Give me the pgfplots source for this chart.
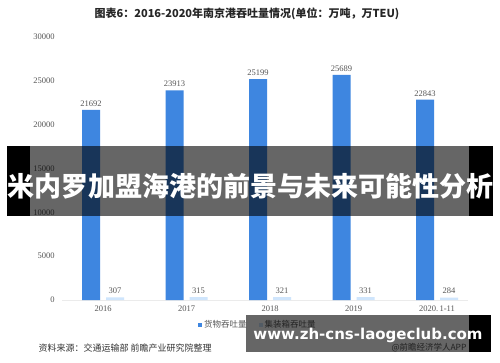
\documentclass[border=0pt]{standalone}
\usepackage{fontspec}
\setmainfont{Liberation Serif}
\newfontfamily\cjk{Noto Sans CJK SC}
\newfontfamily\wsans{DejaVu Sans}
\usepackage{pgfplots}
\pgfplotsset{compat=1.18}
\definecolor{barblue}{HTML}{3E86E0}
\definecolor{barlight}{HTML}{CFE5FC}
\definecolor{txtgray}{HTML}{555555}
\begin{document}
\begin{tikzpicture}[x=1pt,y=1pt]
\useasboundingbox (0,0) rectangle (500,362);
\fill[white] (0,0) rectangle (500,362);
\node[font=\cjk\bfseries\fontsize{11}{13}\selectfont,text=black!85] at (247,348) {图表6：2016-2020年南京港吞吐量情况(单位：万吨，万TEU)};
\draw[black!8,line width=0.8pt] (62,62) -- (468,62);
\begin{axis}[
  at={(61.25pt,62pt)}, anchor=south west,
  scale only axis, width=417.5pt, height=263pt,
  xmin=-0.5, xmax=4.5, ymin=0, ymax=30000,
  axis line style={draw=none},
  major tick length=0pt,
  xtick=data, xticklabels={2016,2017,2018,2019,{2020.\,1-11}},
  ytick={0,5000,...,30000},
  scaled y ticks=false,
  /pgf/number format/assume math mode=true,
  /pgf/number format/1000 sep={},
  yticklabel style={font=\fontsize{8.5}{10}\selectfont, text=txtgray, xshift=-3pt},
  xticklabel style={font=\fontsize{8.5}{10}\selectfont, text=txtgray, yshift=-2pt},
  ybar=6pt, bar width=18pt,
  nodes near coords,
  nodes near coords style={font=\fontsize{8.5}{10}\selectfont, text=txtgray, /pgf/number format/1000 sep={}, /pgf/number format/assume math mode=true},
  clip=false,
  legend style={at={(0.471,-0.095)}, anchor=center, draw=none, fill=none,
    legend columns=2, font=\cjk\fontsize{8.5}{10}\selectfont, text=txtgray,
    /tikz/every even column/.append style={column sep=10pt}},
  legend image code/.code={\fill[#1] (0pt,-2pt) rectangle (4pt,2pt);},
]
\addplot[fill=barblue, draw=none] coordinates {(0,21692) (1,23913) (2,25199) (3,25689) (4,22843)};
\addlegendentry{货物吞吐量}
\addplot[fill=barlight, draw=none] coordinates {(0,307) (1,315) (2,321) (3,331) (4,284)};
\addlegendentry{集装箱吞吐量}
\end{axis}
\node[anchor=west,text=black!80,font=\cjk\fontsize{9}{11}\selectfont] at (35,14) {资料来源：交通运输部 前瞻产业研究院整理};
\node[anchor=east,text=txtgray,font=\cjk\fontsize{8.5}{10}\selectfont] at (470,14) {@前瞻经济学人APP};
% banner
\fill[black,opacity=0.6] (30,146) rectangle (469,216);
\fill[black] (7,146) rectangle (30,216);
\fill[black] (469,146) rectangle (493,216);
\node[text=white,font=\cjk\bfseries\fontsize{27}{30}\selectfont,inner sep=0pt] at (250,175.5) {米内罗加盟海港的前景与未来可能性分析};
% url box
\fill[black,opacity=0.6] (246,10) rectangle (469,47);
\fill[black] (469,10) rectangle (491,47);
\node[text=white,font=\wsans\bfseries\fontsize{15}{18}\selectfont,inner sep=0pt] at (368,27) {www.zh-cns-laogeclub.com};
\end{tikzpicture}
\end{document}
